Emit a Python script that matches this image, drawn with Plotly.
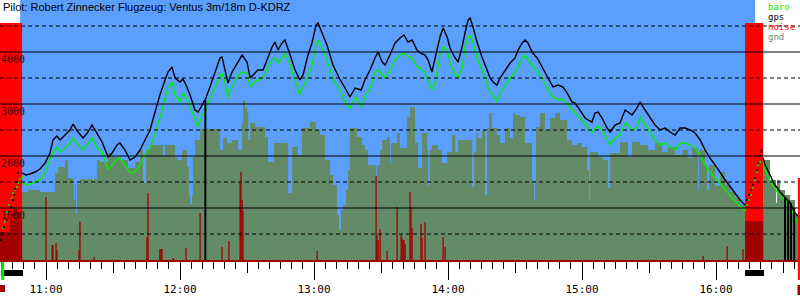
import plotly.graph_objects as go

TITLE = "Pilot: Robert Zinnecker Flugzeug: Ventus 3m/18m D-KDRZ"

# ---- data (time = minutes after 10:00, altitude in ft) ----
track_t = [49.3, 51.0, 52.8, 55.1, 57.3, 59.6, 61.8, 63.1, 64.9, 66.3,
           68.5, 70.7, 72.1, 74.3, 76.6, 78.8, 80.6, 82.8, 85.1, 87.8,
           89.6, 91.8, 93.1, 95.4, 97.6, 99.9, 102.1, 104.3, 106.6, 108.8,
           111.0, 113.3, 114.6, 116.4, 117.8, 120.0, 121.3, 122.7, 124.5, 126.7,
           128.1, 129.9, 131.2, 131.6, 133.4, 135.7, 137.9, 138.8, 140.2, 141.5,
           143.3, 145.5, 147.8, 150.0, 151.4, 152.7, 154.9, 157.2, 159.4, 161.2,
           162.5, 163.9, 165.7, 167.0, 169.3, 171.5, 173.7, 175.1, 177.3, 179.1,
           180.9, 181.8, 183.6, 185.8, 188.5, 191.7, 193.9, 196.1, 198.4, 201.1,
           202.8, 205.1, 207.3, 208.7, 210.5, 211.8, 214.0, 216.3, 218.5, 220.3,
           222.1, 223.9, 226.1, 227.5, 229.7, 231.1, 232.8, 234.2, 236.4, 237.8,
           239.6, 240.9, 243.2, 244.5, 246.3, 247.6, 249.0, 249.9, 251.2, 253.0,
           255.2, 257.5, 258.8, 260.2, 261.9, 263.3, 265.5, 267.8, 270.0, 271.4,
           273.2, 274.5, 275.8, 277.6, 279.9, 282.1, 284.3, 287.0, 289.3, 291.5,
           293.3, 295.5, 296.9, 299.1, 301.4, 302.7, 304.5, 305.8, 307.2, 309.0,
           311.2, 312.6, 314.8, 317.0, 319.3, 320.6, 322.4, 324.6, 326.0, 328.2,
           330.5, 332.7, 335.0, 337.2, 339.4, 341.7, 343.9, 346.1, 348.4, 350.6,
           352.9, 355.1, 357.3, 359.6, 361.8, 364.1, 366.3, 368.5, 370.8, 373.0]
gps_ft = [1673, 1635, 1654, 1692, 1750, 1865, 2058, 2308, 2385, 2308,
          2404, 2500, 2615, 2462, 2346, 2462, 2596, 2442, 2269, 1981,
          2058, 2212, 2250, 2115, 1923, 1981, 2115, 2308, 2500, 2846,
          3173, 3462, 3615, 3712, 3500, 3423, 3481, 3365, 3173, 2885,
          2846, 2981, 3077, 3115, 3327, 3596, 3885, 3904, 3654, 3404,
          3615, 3788, 3942, 3808, 3500, 3558, 3654, 3654, 3904, 4096,
          4192, 4038, 4173, 4231, 3942, 3654, 3462, 3558, 3942, 4173,
          4519, 4558, 4365, 4135, 3750, 3462, 3308, 3135, 3308, 3269,
          3462, 3654, 3885, 4000, 3808, 3750, 3942, 4173, 4269, 4327,
          4192, 4231, 4038, 3981, 3942, 3846, 3615, 3885, 4288, 4462,
          4288, 4077, 3885, 3808, 4096, 4365, 4615, 4654, 4481, 4192,
          3904, 3654, 3500, 3423, 3365, 3500, 3654, 3788, 3885, 4038,
          4173, 4231, 4173, 4000, 3885, 3712, 3519, 3327, 3365, 3327,
          3212, 3038, 3019, 2885, 2731, 2692, 2654, 2827, 2846, 2731,
          2538, 2462, 2596, 2635, 2885, 2846, 2788, 2923, 3038, 2885,
          2731, 2596, 2500, 2538, 2462, 2404, 2538, 2538, 2500, 2442,
          2308, 2115, 1962, 1827, 1692, 1538, 1404, 1288, 1154, 1058]
baro_ft = [1481, 1442, 1462, 1500, 1538, 1692, 1923, 2077, 2173, 2077,
           2154, 2250, 2346, 2212, 2115, 2250, 2346, 2173, 2058, 1731,
           1827, 1942, 1962, 1827, 1673, 1692, 1827, 2019, 2154, 2442,
           2731, 3115, 3327, 3423, 3173, 3038, 3212, 3135, 2942, 2692,
           2558, 2788, 2846, 2885, 3115, 3327, 3519, 3596, 3404, 3115,
           3327, 3519, 3615, 3596, 3327, 3404, 3462, 3500, 3712, 3846,
           3885, 3788, 3885, 3981, 3750, 3462, 3173, 3327, 3519, 3750,
           4135, 4231, 4077, 3846, 3462, 3269, 3038, 2923, 3135, 2942,
           3135, 3308, 3615, 3654, 3558, 3500, 3654, 3846, 3942, 3981,
           3904, 3885, 3712, 3692, 3596, 3462, 3269, 3404, 3942, 4096,
           4038, 3788, 3558, 3519, 3692, 4096, 4288, 4308, 4173, 3885,
           3654, 3365, 3231, 3173, 3038, 3212, 3365, 3500, 3615, 3712,
           3885, 3942, 3846, 3750, 3615, 3500, 3308, 3135, 3077, 3096,
           3000, 2885, 2827, 2731, 2596, 2538, 2462, 2519, 2577, 2500,
           2308, 2212, 2346, 2404, 2635, 2596, 2481, 2558, 2750, 2596,
           2442, 2308, 2212, 2250, 2173, 2115, 2250, 2250, 2212, 2154,
           2019, 1827, 1692, 1577, 1462, 1346, 1250, 1135, 1038, 942]

tail_t = [381.1, 382.0, 384.2, 386.4, 388.7, 390.9, 393.2, 395.4, 397.6]
tail_gps = [1962, 1827, 1635, 1442, 1308, 1212, 1096, 904, 808]
tail_baro = [1885, 1731, 1500, 1385, 1212, 1154, 1000, 827, 577]

pre_gps_t = [39.8, 40.3, 41.2, 42.5, 43.4, 44.3, 45.2, 45.7, 46.1, 47.0, 47.5]
pre_gps_ft = [385, 519, 635, 769, 923, 1019, 1154, 1250, 1365, 1500, 1673]
pre_baro_t = [40.7, 41.6, 42.5, 43.4, 44.8, 45.2, 46.1, 47.0, 47.5, 48.4, 49.3]
pre_baro_ft = [615, 731, 923, 1058, 1192, 1288, 1346, 1404, 1481, 1558, 1596]
post_gps_t = [373.9, 374.8, 375.7, 376.6, 377.5, 378.4, 378.8, 379.7, 380.2, 380.6]
post_gps_ft = [1154, 1250, 1346, 1442, 1577, 1731, 1865, 2000, 2077, 2115]
post_baro_t = [373.0, 373.9, 374.8, 375.7, 376.6, 377.5, 378.4, 378.8, 379.7]
post_baro_ft = [962, 1058, 1154, 1250, 1385, 1538, 1692, 1827, 1885]

drop_t = [131.35, 390.9, 392.3, 393.6, 395.0]
drop_from = [3077, 1212, 1154, 1096, 1000]

gnd_t = [48.4, 51.9, 57.3, 64.0, 65.4, 68.5, 69.9, 72.1, 72.5, 73.0,
         73.4, 73.9, 75.2, 81.0, 81.5, 82.8, 84.2, 87.8, 89.6, 93.1,
         96.7, 99.9, 102.1, 103.4, 104.8, 106.6, 112.4, 113.3, 117.8, 118.7,
         120.9, 121.3, 123.1, 124.0, 124.5, 125.4, 125.8, 126.7, 129.0, 137.9,
         139.3, 141.1, 143.3, 146.0, 147.8, 148.2, 149.1, 150.0, 150.5, 151.4,
         153.6, 158.1, 159.4, 162.1, 168.4, 170.2, 172.8, 174.6, 178.2, 180.9,
         182.7, 184.9, 187.2, 188.5, 190.3, 191.2, 192.1, 193.0, 194.3, 195.2,
         196.1, 199.3, 201.5, 202.8, 204.2, 207.8, 208.2, 209.6, 210.5, 212.7,
         214.0, 214.5, 217.2, 218.5, 221.7, 223.0, 225.2, 226.6, 228.4, 230.6,
         231.1, 231.9, 232.8, 235.5, 237.3, 239.6, 241.8, 243.2, 244.5, 250.8,
         251.7, 252.6, 253.4, 255.2, 256.6, 257.5, 258.4, 259.7, 261.9, 263.3,
         265.5, 267.8, 269.1, 270.0, 272.3, 274.5, 277.6, 278.5, 279.0, 279.4,
         281.2, 283.4, 285.7, 287.9, 290.2, 293.3, 295.5, 297.8, 300.0, 302.3,
         303.2, 303.6, 307.2, 309.4, 311.7, 312.6, 317.0, 320.6, 322.4, 326.0,
         329.6, 332.7, 335.8, 338.5, 341.7, 344.8, 347.5, 349.3, 352.0, 352.4,
         355.1, 356.0, 356.9, 359.6, 361.8, 364.1, 366.3, 368.5, 370.8, 373.0,
         381.1, 384.2, 386.9, 387.3, 388.7, 390.9, 393.2, 395.4, 397.6]
gnd_ft = [1308, 1346, 1308, 1673, 1788, 1923, 1577, 1462, 1154, 1462,
          904, 1462, 1558, 1442, 1558, 1923, 1885, 2058, 1981, 1923,
          1769, 1885, 2115, 1481, 2115, 2212, 1981, 2212, 1962, 1923,
          2077, 2115, 1788, 1250, 1077, 1250, 1981, 2308, 2519, 2115,
          2346, 2250, 2308, 2115, 2635, 3077, 2942, 2846, 2308, 2635,
          2558, 2365, 1885, 2250, 1288, 2173, 2019, 2538, 2654, 2500,
          2404, 1923, 1635, 1442, 865, 577, 962, 1058, 1346, 1731,
          2538, 2365, 2212, 2115, 1827, 1154, 1827, 2115, 2308, 2365,
          1865, 2250, 2442, 2154, 2750, 2942, 2250, 1769, 2442, 2115,
          1442, 2115, 2212, 2115, 1865, 2077, 2404, 2077, 2308, 1404,
          2077, 2442, 2346, 2500, 1250, 2538, 2827, 2538, 2404, 2250,
          2538, 2346, 2827, 2788, 2750, 2250, 1538, 1154, 1538, 2558,
          2827, 2500, 2731, 2827, 2692, 2308, 2212, 2250, 2173, 1731,
          1154, 2077, 1981, 1923, 1385, 2058, 2269, 1981, 2269, 2212,
          2115, 2250, 2077, 2173, 2019, 2115, 1962, 2154, 1346, 2115,
          1827, 1346, 1827, 1423, 1692, 1442, 1308, 1192, 1058, 1058,
          1923, 1538, 1096, 1538, 1346, 1250, 1154, 865, 577]

noise_t = [60.0, 62.7, 63.1, 64.5, 64.9, 74.8, 75.2, 81.5, 105.2, 105.7,
           111.0, 111.5, 111.9, 116.9, 122.7, 129.0, 138.8, 141.9, 146.9, 147.3,
           147.8, 148.2, 181.4, 207.8, 208.2, 208.7, 209.6, 212.7, 217.2, 219.0,
           219.4, 219.9, 220.3, 220.8, 223.0, 223.4, 223.9, 227.9, 228.4, 229.7,
           237.8, 238.7, 354.2, 365.0, 372.1]
noise_v = [1212, 288, 288, 327, 192, 192, 731, 58, 442, 1288,
           212, 212, 212, 38, 231, 904, 250, 365, 1481, 1692,
           1154, 942, 173, 1615, 481, 385, 596, 173, 1019, 481,
           423, 385, 385, 308, 1308, 1019, 615, 692, 423, 731,
           442, 250, 77, 269, 212]
noise_band_start = [39.4, 43.9, 45.2, 47.0, 48.4, 373.0]
noise_band_end = [43.9, 45.2, 47.0, 48.4, 49.3, 381.1]
noise_band_v = [538, 769, 1000, 923, 769, 750]

ground_start = [39.4, 373.0]
ground_end = [49.3, 381.1]
ground_top = 4558
flight_bg = (48.4, 377.5)
start_mark_t = 40.6
end_mark_t = 397.1

hour_ticks = [60, 120, 180, 240, 300, 360]
hour_text = ["11:00", "12:00", "13:00", "14:00", "15:00", "16:00"]
half_ticks = [90, 150, 210, 270, 330, 390]
y_labels = [1000, 2000, 3000, 4000]
grid_solid = [1000, 2000, 3000, 4000]
grid_dash = [500, 1500, 2500, 3500, 4500]

# ---- styles ----
BLUE = "#5a9ffd"
GND = "#648b68"
RED = "#ff0000"
DRED = "#a00000"
GREEN = "#00f000"
X_RANGE = [39.4, 397.6]
Y_RANGE = [0, 5000]

fig = go.Figure()

fig.add_trace(go.Scatter(x=gnd_t, y=gnd_ft, mode="lines",
                         line=dict(width=0, shape="hv", color=GND),
                         fill="tozeroy", fillcolor=GND, hoverinfo="skip"))
for s, e in zip(ground_start, ground_end):
    fig.add_trace(go.Scatter(x=[s, s, e, e, s], y=[0, ground_top, ground_top, 0, 0],
                             mode="lines", line=dict(width=0, color=RED),
                             fill="toself", fillcolor=RED, hoverinfo="skip"))
for s, e, v in zip(noise_band_start, noise_band_end, noise_band_v):
    fig.add_trace(go.Scatter(x=[s, s, e, e, s], y=[0, v, v, 0, 0],
                             mode="lines", line=dict(width=0, color=DRED),
                             fill="toself", fillcolor=DRED, hoverinfo="skip"))
nx, ny = [], []
for t, v in zip(noise_t, noise_v):
    nx += [t, t, None]
    ny += [0, v, None]
fig.add_trace(go.Scatter(x=nx, y=ny, mode="lines",
                         line=dict(color=DRED, width=1.3), hoverinfo="skip"))

# baro
for xs, ys in [(track_t, baro_ft), (tail_t, tail_baro)]:
    fig.add_trace(go.Scatter(x=xs, y=ys, mode="lines",
                             line=dict(color=GREEN, width=1.4), hoverinfo="skip"))
for xs, ys in [(pre_baro_t, pre_baro_ft), (post_baro_t, post_baro_ft)]:
    fig.add_trace(go.Scatter(x=xs, y=ys, mode="markers",
                             marker=dict(color=GREEN, size=2.2, line=dict(width=0)),
                             hoverinfo="skip"))
# gps
for xs, ys in [(track_t, gps_ft), (tail_t, tail_gps)]:
    fig.add_trace(go.Scatter(x=xs, y=ys, mode="lines",
                             line=dict(color="black", width=1.4), hoverinfo="skip"))
for xs, ys in [(pre_gps_t, pre_gps_ft), (post_gps_t, post_gps_ft)]:
    fig.add_trace(go.Scatter(x=xs, y=ys, mode="markers",
                             marker=dict(color="black", size=2.2, line=dict(width=0)),
                             hoverinfo="skip"))
dx, dy = [], []
for t, v in zip(drop_t, drop_from):
    dx += [t, t, None]
    dy += [v, 0, None]
fig.add_trace(go.Scatter(x=dx, y=dy, mode="lines",
                         line=dict(color="black", width=2), hoverinfo="skip"))

# carrier for the half-hour tick axis
fig.add_trace(go.Scatter(x=[None], y=[None], xaxis="x2", showlegend=False))

shapes = [dict(type="rect", xref="x", yref="paper", x0=flight_bg[0], x1=flight_bg[1],
               y0=0, y1=1, fillcolor=BLUE, line=dict(width=0), layer="below")]
for v in grid_solid:
    shapes.append(dict(type="line", xref="paper", yref="y", x0=0, x1=1, y0=v, y1=v,
                       line=dict(color="black", width=1.2), layer="above"))
for v in grid_dash:
    shapes.append(dict(type="line", xref="paper", yref="y", x0=0, x1=1, y0=v, y1=v,
                       line=dict(color="black", width=1.2, dash="4px,3px"), layer="above"))
for s, e in zip(ground_start, ground_end):
    shapes.append(dict(type="rect", xref="x", yref="paper", x0=max(s, 39.8), x1=e + 0.4,
                       y0=-10 / 260, y1=-16 / 260, fillcolor="black",
                       line=dict(width=0), layer="above"))
shapes.append(dict(type="line", xref="x", yref="paper", x0=start_mark_t, x1=start_mark_t,
                   y0=-2 / 260, y1=-20 / 260, line=dict(color=GREEN, width=3)))
shapes.append(dict(type="rect", xref="paper", yref="paper", x0=0, x1=5 / 800,
                   y0=-25 / 260, y1=-32 / 260, fillcolor=DRED, line=dict(width=0)))
shapes.append(dict(type="line", xref="x", yref="y", x0=end_mark_t, x1=end_mark_t,
                   y0=1577, y1=0, line=dict(color=RED, width=2)))
shapes.append(dict(type="line", xref="x", yref="paper", x0=end_mark_t, x1=end_mark_t,
                   y0=0, y1=-20 / 260, line=dict(color=RED, width=2)))
shapes.append(dict(type="rect", xref="paper", yref="paper", x0=797.5 / 800, x1=1,
                   y0=-25 / 260, y1=-35 / 260, fillcolor=DRED, line=dict(width=0)))

ann = [dict(text=TITLE, xref="paper", yref="paper", x=1 / 800, y=1 - 7 / 260,
            xanchor="left", yanchor="middle", showarrow=False,
            font=dict(family="Liberation Sans", size=11, color="black"))]
for v in y_labels:
    ann.append(dict(text=str(v), xref="paper", yref="y", x=-1 / 800, y=v, xanchor="left",
                    yanchor="top", yshift=0, showarrow=False,
                    font=dict(family="DejaVu Sans Mono", size=10, color="#4a0000")))
leg = [("baro", GREEN), ("gps", "black"), ("noise", RED), ("gnd", GND)]
for i, (name, col) in enumerate(leg):
    ann.append(dict(text=name, xref="paper", yref="paper", x=767 / 800,
                    y=1 - (7 + 10 * i) / 260, xanchor="left", yanchor="middle",
                    showarrow=False, borderpad=0,
                    font=dict(family="DejaVu Sans Mono", size=9, color=col)))

fig.update_layout(
    width=800, height=300, margin=dict(l=0, r=0, t=0, b=40),
    paper_bgcolor="white", plot_bgcolor="white", showlegend=False,
    shapes=shapes, annotations=ann,
    xaxis=dict(range=X_RANGE, tickmode="array", tickvals=hour_ticks, ticktext=hour_text,
               ticks="outside", ticklen=18, tickwidth=1, tickcolor="black",
               tickfont=dict(family="DejaVu Sans Mono", size=11, color="black"),
               showgrid=False, zeroline=False, showline=True, linecolor=DRED,
               linewidth=2, fixedrange=True,
               minor=dict(tickvals=list(range(40, 398, 5)), ticks="outside", ticklen=7,
                          tickwidth=1, tickcolor="black", showgrid=False)),
    xaxis2=dict(range=X_RANGE, overlaying="x", anchor="y", side="bottom",
                tickmode="array", tickvals=half_ticks, ticks="outside", ticklen=12,
                tickwidth=1, tickcolor="black", showticklabels=False, showgrid=False,
                zeroline=False, showline=False, fixedrange=True),
    yaxis=dict(range=Y_RANGE, showgrid=False, zeroline=False, showticklabels=False,
               ticks="", fixedrange=True),
)

fig.write_html("out.html")
